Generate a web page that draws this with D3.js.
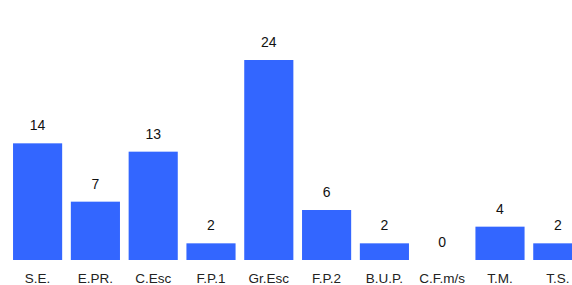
<!DOCTYPE html>
<html><head><meta charset="utf-8">
<script src="https://cdn.jsdelivr.net/npm/d3@7"></script>
<style>body{margin:0;background:#fff}svg{display:block}</style>
</head><body><svg id="c" width="572" height="285"></svg>
<script>
const categories = ["S.E.","E.PR.","C.Esc","F.P.1","Gr.Esc","F.P.2","B.U.P.","C.F.m/s","T.M.","T.S."];
const values = [14,7,13,2,24,6,2,0,4,2];

const svg = d3.select("#c");
const x = d3.scaleBand().domain(categories).range([8.7, 586.7]).paddingInner(0.15).paddingOuter(0.075);
const y = d3.scaleLinear().domain([0,24]).range([260,60]);

svg.selectAll("rect.bar").data(values).join("rect")
  .attr("class","bar")
  .attr("x",(d,i)=>x(categories[i]))
  .attr("y",d=>y(d))
  .attr("width",x.bandwidth())
  .attr("height",d=>y(0)-y(d))
  .attr("fill","#3366ff");

svg.selectAll("text.val").data(values).join("text")
  .attr("class","val")
  .attr("x",(d,i)=>x(categories[i])+x.bandwidth()/2)
  .attr("y",d=>y(d)-13)
  .attr("text-anchor","middle")
  .attr("font-family","Liberation Sans, Arial, sans-serif")
  .attr("font-size",14)
  .attr("fill","#111")
  .text(d=>d);

svg.selectAll("text.cat").data(categories).join("text")
  .attr("class","cat")
  .attr("x",d=>x(d)+x.bandwidth()/2)
  .attr("y",283)
  .attr("text-anchor","middle")
  .attr("font-family","Liberation Sans, Arial, sans-serif")
  .attr("font-size",13.5)
  .attr("fill","#222")
  .text(d=>d);
</script></body></html>
